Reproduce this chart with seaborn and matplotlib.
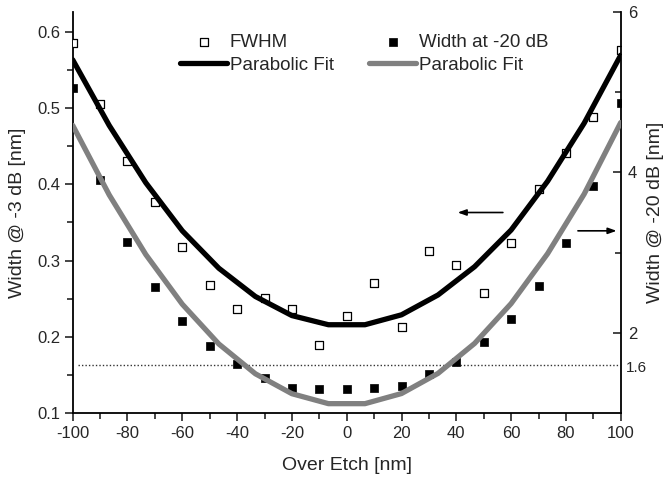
import numpy as np
import pandas as pd
import matplotlib
matplotlib.use("Agg")
import matplotlib.pyplot as plt
import seaborn as sns
from matplotlib.ticker import MultipleLocator, FixedLocator

sns.set_style("ticks")
plt.rcParams["font.family"] = ["Liberation Sans", "DejaVu Sans"]
plt.rcParams["axes.unicode_minus"] = False

# ---- data ----
over_etch = [-100, -90, -80, -70, -60, -50, -40, -30, -20, -10, 0,
             10, 20, 30, 40, 50, 60, 70, 80, 90, 100]
fwhm = [0.585, 0.505, 0.431, 0.377, 0.318, 0.268, 0.236, 0.251, 0.236, 0.189, 0.228,
        0.271, 0.2135, 0.312, 0.294, 0.258, 0.323, 0.394, 0.441, 0.488, 0.576]
width_20db = [5.05, 3.90, 3.13, 2.57, 2.15, 1.84, 1.62, 1.44, 1.32, 1.30, 1.30,
              1.32, 1.34, 1.49, 1.64, 1.89, 2.18, 2.59, 3.12, 3.83, 4.86]

fit_x = [-100, -86.67, -73.33, -60, -46.67, -33.33, -20, -6.67,
         6.67, 20, 33.33, 46.67, 60, 73.33, 86.67, 100]
fit_fwhm = [0.563, 0.477, 0.402, 0.339, 0.290, 0.253, 0.228, 0.216,
            0.216, 0.229, 0.255, 0.292, 0.340, 0.404, 0.480, 0.569]
fit_width = [4.585, 3.719, 2.977, 2.358, 1.863, 1.492, 1.244, 1.120,
             1.120, 1.246, 1.497, 1.870, 2.366, 2.988, 3.730, 4.620]

label_fwhm = "FWHM"
label_w20 = "Width at -20 dB"
label_fit = "Parabolic Fit"
ref_level = 1.6

df = pd.DataFrame({"x": over_etch, "fwhm": fwhm, "w20": width_20db})
dfit = pd.DataFrame({"x": fit_x, "fwhm": fit_fwhm, "w20": fit_width})

W, H = 663, 479
fig = plt.figure(figsize=(W / 100, H / 100), dpi=100)
ax = fig.add_axes([72.7 / W, (H - 413.3) / H, 548 / W, 401.6 / H])
ax2 = ax.twinx()

gray = "#808080"
# left axis: FWHM
sns.scatterplot(data=df, x="x", y="fwhm", ax=ax, marker="s", s=30,
                facecolor="white", edgecolor="black", linewidth=0.9,
                label=label_fwhm, zorder=3, legend=False)
sns.lineplot(data=dfit, x="x", y="fwhm", ax=ax, color="black", linewidth=3.8,
             label=label_fit, zorder=4, legend=False)
# right axis: width at -20 dB
sns.scatterplot(data=df, x="x", y="w20", ax=ax2, marker="s", s=40,
                color="black", edgecolor="black", linewidth=0.5,
                label=label_w20, zorder=3, legend=False)
sns.lineplot(data=dfit, x="x", y="w20", ax=ax2, color=gray, linewidth=3.8,
             label=label_fit, zorder=4, legend=False)
ax2.axhline(ref_level, color="#333333", linestyle=(0, (1, 1.5)), linewidth=1.0,
            xmin=0.01, xmax=0.995)
ax2.text(1.01, ref_level - 0.04, "1.6", transform=ax2.get_yaxis_transform(),
         ha="left", va="center", fontsize=11)

# arrows
ax.annotate("", xy=(40.5, 0.363), xytext=(57, 0.363),
            arrowprops=dict(arrowstyle="-|>,head_length=0.5,head_width=0.18",
                            color="black", lw=1.2, shrinkA=0, shrinkB=0))
ax.annotate("", xy=(98.5, 0.339), xytext=(84.4, 0.339),
            arrowprops=dict(arrowstyle="-|>,head_length=0.5,head_width=0.18",
                            color="black", lw=1.2, shrinkA=0, shrinkB=0))

# limits and ticks
ax.set_xlim(-100, 100)
ax.set_ylim(0.1, 0.626)
ax2.set_ylim(1, 6)
ax.xaxis.set_major_locator(MultipleLocator(20))
ax.xaxis.set_minor_locator(MultipleLocator(10))
ax.yaxis.set_major_locator(FixedLocator([0.1, 0.2, 0.3, 0.4, 0.5, 0.6]))
ax.yaxis.set_minor_locator(FixedLocator([0.15, 0.25, 0.35, 0.45, 0.55]))
ax2.yaxis.set_major_locator(FixedLocator([2, 4, 6]))
ax2.yaxis.set_minor_locator(FixedLocator([3, 5]))
ax.yaxis.set_major_formatter(matplotlib.ticker.FormatStrFormatter("%.1f"))
ax2.yaxis.set_major_formatter(matplotlib.ticker.FormatStrFormatter("%d"))

ax.tick_params(axis="both", which="major", direction="out", length=6, width=1.2,
               labelsize=12, pad=3)
ax.tick_params(axis="both", which="minor", direction="out", length=4, width=1.2)
ax2.tick_params(axis="y", which="major", direction="in", length=6, width=1.2,
                labelsize=12, pad=5)
ax2.tick_params(axis="y", which="minor", direction="in", length=4, width=1.2)

for a in (ax, ax2):
    a.spines["top"].set_visible(False)
    for s in ("left", "right", "bottom"):
        a.spines[s].set_linewidth(1.3)
        a.spines[s].set_color("black")
ax.spines["right"].set_visible(False)
ax2.spines["left"].set_visible(False)
ax2.spines["bottom"].set_visible(False)

ax.set_xlabel("Over Etch [nm]", fontsize=14)
ax.set_ylabel("Width @ -3 dB [nm]", fontsize=14)
ax2.set_ylabel("Width @ -20 dB [nm]", fontsize=14)
ax.xaxis.set_label_coords(0.5, -0.129)
ax.xaxis.label.set_va("center")
ax.yaxis.set_label_coords(-0.1016, 0.5)
ax.yaxis.label.set_va("center")
ax2.yaxis.set_label_coords(1.0626, 0.5)
ax2.yaxis.label.set_va("center")

# legend (two columns)
h1, l1 = ax.get_legend_handles_labels()
h2, l2 = ax2.get_legend_handles_labels()
handles = [h1[0], h1[1], h2[0], h2[1]]
labels = [l1[0], l1[1], l2[0], l2[1]]
leg = ax2.legend(handles, labels, ncol=2, frameon=False, fontsize=13.5,
                 loc="upper left", bbox_to_anchor=(0.196, 0.945),
                 borderaxespad=0, borderpad=0, handlelength=2.5,
                 handletextpad=0.15, columnspacing=1.9, labelspacing=0.3)

fig.savefig("out.png", dpi=100)
